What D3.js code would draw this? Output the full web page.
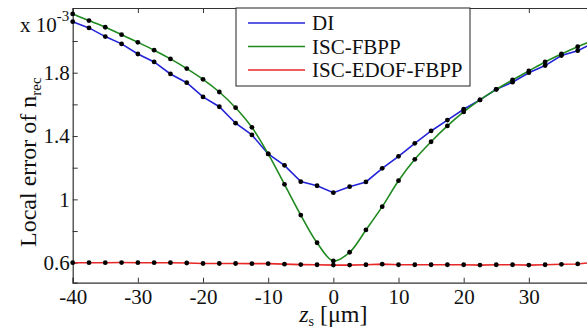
<!DOCTYPE html>
<html>
<head>
<meta charset="utf-8">
<script src="https://cdn.jsdelivr.net/npm/d3@7"></script>
<style>
  body { margin: 0; background: #fff; }
  svg { display: block; font-family: "Liberation Serif", "Times New Roman", serif; }
</style>
</head>
<body>
<div id="chart"></div>
<script>
// z_s positions in micrometres
const zPos = [-40, -37.5, -35, -32.5, -30, -27.5, -25, -22.5, -20, -17.5, -15, -12.5, -10, -7.5, -5, -2.5,
  0, 2.5, 5, 7.5, 10, 12.5, 15, 17.5, 20, 22.5, 25, 27.5, 30, 32.5, 35, 37.5, 40];

// local error of n_rec (x 1e-3)
const diValues = [2.122, 2.083, 2.028, 1.982, 1.918, 1.868, 1.792, 1.737, 1.647, 1.585, 1.481, 1.407, 1.287, 1.215, 1.112, 1.086,
  1.042, 1.080, 1.110, 1.196, 1.272, 1.354, 1.432, 1.501, 1.569, 1.628, 1.695, 1.740, 1.800, 1.845, 1.908, 1.939, 1.990];
const fbppValues = [2.171, 2.129, 2.087, 2.040, 1.992, 1.942, 1.887, 1.826, 1.758, 1.678, 1.579, 1.455, 1.287, 1.095, 0.901, 0.726,
  0.611, 0.666, 0.807, 0.954, 1.118, 1.253, 1.364, 1.464, 1.552, 1.628, 1.695, 1.754, 1.811, 1.868, 1.918, 1.964, 2.005];
const edofValues = [0.600, 0.600, 0.600, 0.601, 0.600, 0.600, 0.600, 0.598, 0.595, 0.595, 0.595, 0.594, 0.594, 0.591, 0.588, 0.587,
  0.585, 0.585, 0.587, 0.591, 0.587, 0.587, 0.587, 0.587, 0.587, 0.585, 0.587, 0.587, 0.585, 0.587, 0.590, 0.592, 0.603];

const legendLabels = ["DI", "ISC-FBPP", "ISC-EDOF-FBPP"];
const colors = ["#2323d8", "#1f8a1f", "#e82828"];

const xTicks = [-40, -30, -20, -10, 0, 10, 20, 30, 40];
const xLabelled = [-40, -30, -20, -10, 0, 10, 20, 30];
const yTicks = [0.6, 0.8, 1.0, 1.2, 1.4, 1.6, 1.8, 2.0];
const yLabelled = [0.6, 1.0, 1.4, 1.8];

const width = 587, height = 331;
// the right edge of the axes box lies just past the picture, as in the original figure
const margin = { left: 72.7, top: 8, bottom: 282.7, right: 594 };

const svg = d3.select("#chart").append("svg")
  .attr("width", width)
  .attr("height", height);

const xScale = d3.scaleLinear().domain([-40, 40]).range([margin.left, margin.right]);
const yScale = d3.scaleLinear().domain([0.4737, 2.2086]).range([margin.bottom, margin.top]);

// axes frame
const tickLen = 5;
const xAxis = d3.axisBottom(xScale).tickValues(xTicks).tickSize(-tickLen).tickPadding(6)
  .tickFormat(d => xLabelled.includes(d) ? String(d) : "");
const yAxis = d3.axisLeft(yScale).tickValues(yTicks).tickSize(-tickLen).tickPadding(3)
  .tickFormat(d => yLabelled.some(v => Math.abs(v - d) < 1e-9) ? String(+d.toFixed(1)) : "");

svg.append("g").attr("transform", "translate(0," + margin.bottom + ")").call(xAxis);
svg.append("g").attr("transform", "translate(" + margin.left + ",0)").call(yAxis);
svg.append("g").attr("transform", "translate(0," + margin.top + ")")
  .call(d3.axisTop(xScale).tickValues(xTicks).tickSize(-tickLen).tickFormat(""));
svg.append("g").attr("transform", "translate(" + margin.right + ",0)")
  .call(d3.axisRight(yScale).tickValues(yTicks).tickSize(-tickLen).tickFormat(""));

svg.selectAll(".domain").attr("stroke", "#333").attr("stroke-width", 1.2);
svg.selectAll(".tick line").attr("stroke", "#333");
svg.selectAll(".tick text").attr("fill", "#111").style("font-size", "21px")
  .style("font-family", "'Liberation Serif', serif");

// lines + markers
const seriesList = [
  { values: diValues, curve: d3.curveLinear },
  { values: fbppValues, curve: d3.curveCatmullRom },
  { values: edofValues, curve: d3.curveLinear }
];

seriesList.forEach((s, i) => {
  const line = d3.line()
    .curve(s.curve)
    .x((d, j) => xScale(zPos[j]))
    .y(d => yScale(d));
  svg.append("path")
    .attr("d", line(s.values))
    .attr("fill", "none")
    .attr("stroke", colors[i])
    .attr("stroke-width", 1.6);
});

seriesList.forEach((s) => {
  svg.append("g").selectAll("circle")
    .data(s.values)
    .enter()
    .append("circle")
    .attr("cx", (d, j) => xScale(zPos[j]))
    .attr("cy", d => yScale(d))
    .attr("r", 2.4)
    .attr("fill", "#000");
});

// legend
const legend = svg.append("g").attr("transform", "translate(236," + margin.top + ")");
legend.append("rect")
  .attr("width", 234).attr("height", 78)
  .attr("fill", "#fff").attr("stroke", "#222").attr("stroke-width", 1);

const items = legend.selectAll(".legend")
  .data(legendLabels)
  .enter()
  .append("g")
  .attr("class", "legend")
  .attr("transform", (d, i) => "translate(0," + (15 + i * 23.5) + ")");

items.append("line")
  .attr("x1", 12).attr("x2", 69)
  .attr("stroke", (d, i) => colors[i]).attr("stroke-width", 1.6);
items.append("text")
  .attr("x", 76).attr("y", 7)
  .style("font-size", "21px")
  .attr("fill", "#111")
  .text(d => d);

// exponent label
const expo = svg.append("text").attr("x", 20).attr("y", 32).style("font-size", "21px").attr("fill", "#111");
expo.append("tspan").text("x 10");
expo.append("tspan").attr("dy", -11).style("font-size", "15px").text("-3");

// axis titles
const yTitle = svg.append("text")
  .attr("transform", "translate(36,247) rotate(-90)")
  .style("font-size", "24px")
  .attr("fill", "#111");
yTitle.append("tspan").text("Local error of n");
yTitle.append("tspan").attr("dy", 5).style("font-size", "15px").text("rec");

const xTitle = svg.append("text")
  .attr("x", xScale(0)).attr("y", 322)
  .attr("text-anchor", "middle")
  .style("font-size", "24px")
  .attr("fill", "#111");
xTitle.append("tspan").style("font-style", "italic").text("z");
xTitle.append("tspan").attr("dy", 4).style("font-size", "14px").text("s");
xTitle.append("tspan").attr("dy", -4).text(" [\u03bcm]");
</script>
</body>
</html>
